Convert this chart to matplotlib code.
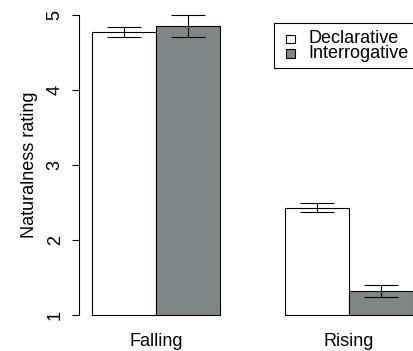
import matplotlib
matplotlib.use("Agg")
import matplotlib.pyplot as plt
from matplotlib.patches import Rectangle
import numpy as np

plt.rcParams['font.family'] = ['Liberation Sans', 'DejaVu Sans']

categories = ["Falling", "Rising"]
series_names = ["Declarative", "Interrogative"]
means_decl = [4.77, 2.43]
means_inter = [4.85, 1.32]
err_lo_decl = [4.71, 2.37]
err_hi_decl = [4.84, 2.49]
err_lo_inter = [4.71, 1.24]
err_hi_inter = [5.00, 1.40]
y_ticks = [1, 2, 3, 4, 5]
colors = ["white", "#7e8787"]

W, H = 413, 351
fig = plt.figure(figsize=(W / 100, H / 100), dpi=100)
# plot region (R style): x 0.8..6.2 -> 79..426 px, y 0.84..5.16 -> 327..3 px
ax = fig.add_axes([79 / W, (H - 327) / H, 347 / W, 324 / H])
ax.set_xlim(0.8, 6.2)
ax.set_ylim(0.84, 5.16)

base = 1.0
group_starts = np.array([1.0, 4.0])
series = [(means_decl, err_lo_decl, err_hi_decl), (means_inter, err_lo_inter, err_hi_inter)]
for s, (m, lo, hi) in enumerate(series):
    lefts = group_starts + s
    m = np.array(m)
    ax.bar(lefts, m - base, width=1.0, bottom=base, align='edge',
           color=colors[s], edgecolor='black', linewidth=0.8, zorder=2)
    centers = lefts + 0.5
    lo = np.array(lo); hi = np.array(hi)
    ax.errorbar(centers, (lo + hi) / 2, yerr=[(lo + hi) / 2 - lo, hi - (lo + hi) / 2],
                fmt='none', ecolor='black', elinewidth=0.8, capsize=12,
                capthick=0.8, zorder=3)

for sp in ['top', 'right', 'bottom']:
    ax.spines[sp].set_visible(False)
ax.spines['left'].set_bounds(1, 5)
ax.spines['left'].set_linewidth(0.8)

ax.set_yticks(y_ticks)
ax.set_yticklabels([str(t) for t in y_ticks], rotation=90, va='center', fontsize=13)
ax.tick_params(axis='y', length=5, width=0.8, pad=6)
ax.set_xticks(group_starts + 1.0)
ax.set_xticklabels(categories, fontsize=13)
ax.tick_params(axis='x', length=0, pad=4)
ax.set_ylabel("Naturalness rating", fontsize=13, labelpad=6)

# legend (R style, top right)
tr = ax.transAxes
ax.add_patch(Rectangle((0.562, 0.799), 0.438, 0.139, transform=tr, fill=False,
                       edgecolor='black', linewidth=0.8, clip_on=False, zorder=4))
key_y = [0.889, 0.844]
for i, name in enumerate(series_names):
    ax.add_patch(Rectangle((0.597, key_y[i] - 0.0135), 0.026, 0.027, transform=tr,
                           facecolor=colors[i], edgecolor='black', linewidth=0.8,
                           clip_on=False, zorder=5))
    ax.text(0.660, key_y[i], name, transform=tr, fontsize=13, ha='left',
            va='center', zorder=5)

fig.savefig("out.png", dpi=100)
